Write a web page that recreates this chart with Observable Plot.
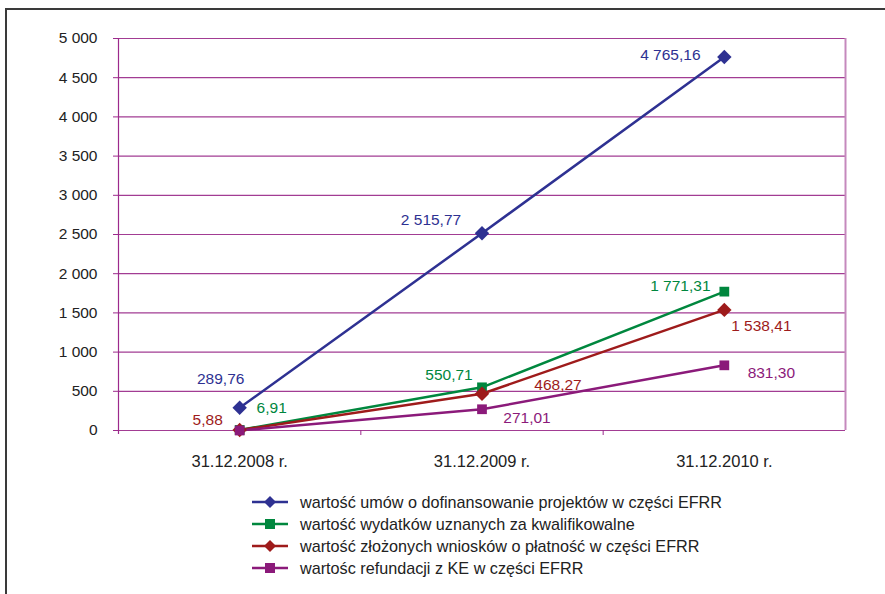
<!DOCTYPE html>
<html><head><meta charset="utf-8">
<script src="https://cdn.jsdelivr.net/npm/d3@7"></script>
<script src="https://cdn.jsdelivr.net/npm/@observablehq/plot@0.6"></script>
<style>
body{margin:0;background:#fff;font-family:"Liberation Sans",Arial,sans-serif;}
#wrap{position:relative;width:885px;height:594px;overflow:hidden;}
#frame{position:absolute;left:5px;top:8px;width:900px;height:600px;border:2px solid #3a3a3a;box-sizing:border-box;}
#chart{position:absolute;left:0;top:0;}
#legend{position:absolute;left:250px;top:491px;font-size:16.2px;color:#222;}
.row{height:22px;display:flex;align-items:center;}
.row svg{margin-right:10px;}
</style></head>
<body><div id="wrap"><div id="frame"></div><div id="chart"></div><div id="legend"></div></div>
<script>
const categories = ["31.12.2008 r.", "31.12.2009 r.", "31.12.2010 r."];
const seriesNames = [
  "wartość umów o dofinansowanie projektów w części EFRR",
  "wartość wydatków uznanych za kwalifikowalne",
  "wartość złożonych wniosków o płatność w części EFRR",
  "wartośc refundacji z KE w części EFRR"
];
const umowy = [289.76, 2515.77, 4765.16];
const wydatki = [6.91, 550.71, 1771.31];
const wnioski = [5.88, 468.27, 1538.41];
const refundacje = [0, 271.01, 831.30];
const labelled = [[true,true,true],[true,true,true],[true,true,true],[false,true,true]];
const yTicks = [0, 500, 1000, 1500, 2000, 2500, 3000, 3500, 4000, 4500, 5000];

// styles
const colors = ["#2e3192", "#00873e", "#9e1b1b", "#8b1a7a"];
const symbols = ["diamond2", "square", "diamond2", "square"];
const labelDx = [[-19,-51,-54],[32,-33,-44],[-32,76,37],[0,45,47]];
const labelDy = [[-29,-13,-2],[-22,-12,-6],[-10,-9,16],[0,9,8]];

const loc = d3.formatLocale({decimal:",", thousands:"\u00a0", grouping:[3], currency:["",""]});
const fmtTick = loc.format(",.0f");
const fmtVal = loc.format(",.2f");

const values = [umowy, wydatki, wnioski, refundacje];
const rows = [];
values.forEach((vals, s) => vals.forEach((v, i) => rows.push({s, i, v, lab: labelled[s][i]})));

const marks = [
  Plot.ruleY(yTicks, {stroke: "#a23c93", strokeWidth: 1.2}),
  Plot.ruleX([2.5], {stroke: "#c589bd", strokeWidth: 2}),
  Plot.axisY({ticks: yTicks, tickFormat: fmtTick, tickSize: 5, tickPadding: 16, stroke: "#9c2a8c", fontSize: 15.5, color: "#222", label: null}),
  Plot.ruleX([-0.5], {y1: -50, y2: 5000, stroke: "#9c2a8c", strokeWidth: 1.2}),
  Plot.axisX({ticks: [0.5, 1.5], tickFormat: () => "", tickSize: 5, stroke: "#9c2a8c", label: null}),
  Plot.axisX({ticks: [0, 1, 2], tickFormat: i => categories[i], tickSize: 0, tickPadding: 25, fontSize: 16.5, color: "#222", label: null})
];
for (let s = 0; s < 4; s++) {
  const d = rows.filter(r => r.s === s);
  marks.push(Plot.line(d, {x: "i", y: "v", stroke: colors[s], strokeWidth: 2.5}));
}
for (let s = 0; s < 4; s++) {
  const d = rows.filter(r => r.s === s);
  marks.push(Plot.dot(d, {x: "i", y: "v", fill: colors[s], symbol: symbols[s], r: symbols[s] === "square" ? 5.5 : 6.5, stroke: "none"}));
}
for (let s = 0; s < 4; s++) {
  rows.filter(r => r.s === s && r.lab).forEach(r => {
    marks.push(Plot.text([r], {x: "i", y: "v", text: d => fmtVal(d.v), fill: colors[s], fontSize: 15.5,
      dx: labelDx[s][r.i], dy: labelDy[s][r.i]}));
  });
}

const chart = Plot.plot({
  width: 885, height: 480,
  marginLeft: 118, marginRight: 40, marginTop: 38, marginBottom: 50,
  style: {fontFamily: "Liberation Sans, Arial, sans-serif", fontSize: "15px", background: "transparent"},
  x: {domain: [-0.5, 2.5], axis: null},
  y: {domain: [0, 5000], axis: null},
  marks
});
document.getElementById("chart").append(chart);

const leg = document.getElementById("legend");
seriesNames.forEach((n, s) => {
  const row = document.createElement("div");
  row.className = "row";
  const sym = symbols[s] === "diamond2"
    ? `<path d="M20 -6 L26 0 L20 6 L14 0 Z" fill="${colors[s]}"/>`
    : `<rect x="15" y="-5" width="10" height="10" fill="${colors[s]}"/>`;
  row.innerHTML = `<svg width="40" height="14" viewBox="0 -7 40 14"><line x1="2" x2="38" y1="0" y2="0" stroke="${colors[s]}" stroke-width="2.5"/>${sym}</svg><span>${n}</span>`;
  leg.append(row);
});
</script></body></html>
